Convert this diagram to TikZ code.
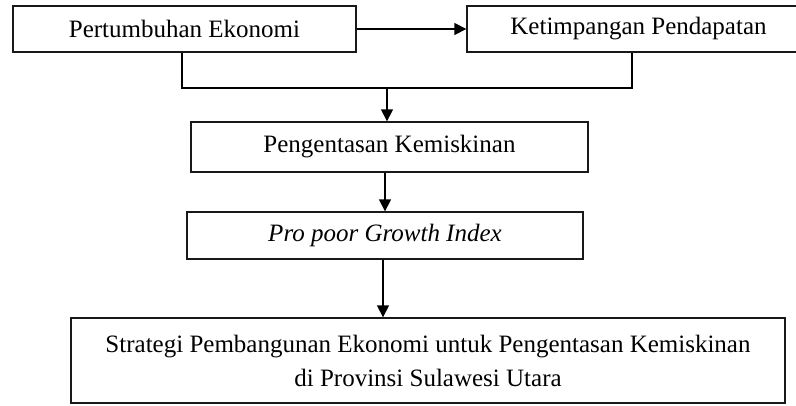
\documentclass[tikz,border=0pt]{standalone}
\usepackage{fontspec}
\setmainfont{Liberation Serif}
\usetikzlibrary{arrows.meta}
\begin{document}
\begin{tikzpicture}[x=1pt,y=-1pt,
  box/.style={draw=black!90, line width=1.4pt, inner sep=0pt, align=center,
    font=\fontsize{25}{34}\selectfont},
  conn/.style={line width=1.6pt, draw=black},
  arr/.style={conn, -{Triangle[length=12pt,width=12pt]}}]
\useasboundingbox (0,0) rectangle (796,406);
\node[box, minimum width=343pt, minimum height=46pt] (b1) at (184.5,29) {Pertumbuhan Ekonomi};
\node[box, minimum width=343pt, minimum height=46pt] (b2) at (638.5,29) {Ketimpangan Pendapatan};
\node[box, minimum width=397pt, minimum height=50pt] (b3) at (389.5,147) {Pengentasan Kemiskinan};
\node[box, minimum width=396pt, minimum height=47pt] (b4) at (385,235.5) {\itshape Pro poor Growth Index};
\node[box, minimum width=714pt, minimum height=85pt] (b5) at (428,360.5) {Strategi Pembangunan Ekonomi untuk Pengentasan Kemiskinan\\di Provinsi Sulawesi Utara};
\coordinate (j1) at (182,88);
\coordinate (j2) at (632,88);
\coordinate (jm) at (387,88);
\draw[arr] (b1.east) -- (b2.west);
\draw[conn] (b1.south -| j1) -- (j1) -- (j2) -- (b2.south -| j2);
\draw[arr] (jm) -- (b3.north -| jm);
\draw[arr] (b3.south -| 385,0) -- (b4.north -| 385,0);
\draw[arr] (b4.south -| 383,0) -- (b5.north -| 383,0);
\end{tikzpicture}
\end{document}
